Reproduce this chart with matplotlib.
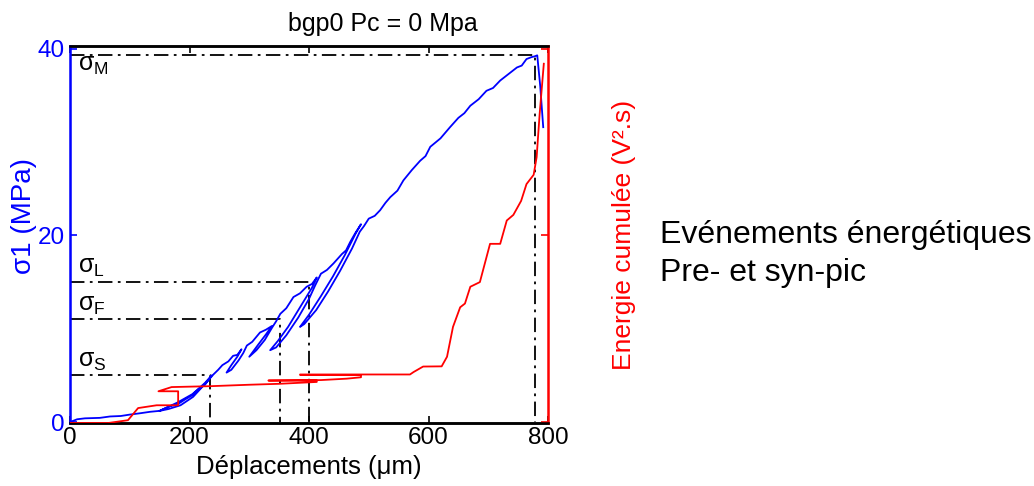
import numpy as np
import matplotlib
matplotlib.use('Agg')
import matplotlib.pyplot as plt

plt.rcParams['font.family'] = ['Liberation Sans', 'DejaVu Sans']
plt.rcParams['mathtext.fontset'] = 'custom'
plt.rcParams['mathtext.rm'] = 'Liberation Sans'
plt.rcParams['mathtext.it'] = 'Liberation Sans'
plt.rcParams['mathtext.bf'] = 'Liberation Sans'

# stress vs displacement (with unload / reload loops)
blue_x = [0, 12, 25, 50, 67, 85, 100, 118, 134, 150, 167, 180, 192, 205, 215, 226, 237,
          226, 205, 180, 160, 150,
          165, 185, 206, 229, 240, 248, 255, 265, 273, 280, 287,
          280, 270, 262,
          270, 282, 290, 296, 305, 318, 328, 338,
          328, 315, 300,
          312, 326, 338, 345, 352, 362, 374, 385, 396, 405, 413,
          405, 385, 365, 348, 335,
          345, 362, 382, 400, 410, 420, 430, 441, 455, 462, 469, 477, 487,
          478, 460, 440, 420, 400, 385,
          392, 412, 432, 452, 472, 485, 492, 500, 510, 519, 528, 536, 548, 558,
          572, 586, 595, 603, 620, 636, 650, 660, 670, 684, 697, 708, 720,
          734, 748, 756, 764, 772, 778, 782, 787, 792]
blue_y = [0, 0.3, 0.4, 0.45, 0.6, 0.65, 0.8, 0.95, 1.1, 1.2, 1.7, 1.9, 2.4, 2.9, 3.5, 4.0, 5.0,
          4.2, 3.0, 2.1, 1.5, 1.2,
          1.4, 1.8, 2.7, 4.3, 5.1, 5.6, 6.1, 6.5, 7.1, 7.2, 7.8,
          7.0, 6.1, 5.3,
          5.6, 6.6, 7.4, 8.2, 8.6, 9.6, 9.9, 10.3,
          9.4, 8.3, 7.0,
          7.7, 8.8, 10.1, 10.8, 11.6, 12.2, 13.4, 13.8, 14.5, 14.8, 15.5,
          14.4, 12.3, 10.2, 8.7, 7.7,
          8.0, 9.3, 11.2, 13.2, 14.6, 15.9, 16.3, 17.0, 18.0, 18.4, 19.3, 20.2, 21.2,
          20.2, 17.9, 15.6, 13.5, 11.5, 10.2,
          10.5, 12.0, 14.0, 16.2, 18.6, 20.4, 21.0, 21.8, 22.1, 22.7, 23.5, 24.1, 24.8, 25.9,
          27.0, 28.0, 28.5, 29.5, 30.4, 31.6, 32.6, 33.1, 33.9, 34.6, 35.5, 35.8, 36.6,
          37.3, 38.0, 38.2, 38.9, 39.1, 39.2, 39.3, 36.0, 31.6]

# cumulated energy (same scale as left axis, arbitrary units)
red_x = [0, 64, 97, 114, 145, 181, 181, 148, 170, 237, 300, 350, 413,
         413, 332, 420, 463, 487, 487, 385, 385, 569, 575, 591, 622, 631,
         641, 653, 661, 670, 686, 703, 720, 731, 742, 755, 764, 776, 781,
         786, 793]
red_y = [-0.1, -0.1, 0.2, 1.5, 1.8, 1.8, 3.3, 3.3, 3.75, 3.85, 4.0, 4.1, 4.3,
         4.45, 4.45, 4.5, 4.65, 4.8, 5.05, 5.05, 5.1, 5.1, 5.36, 5.95, 5.97, 7.0,
         10.2, 12.3, 12.7, 14.5, 15.0, 19.1, 19.1, 21.6, 22.2, 23.7, 25.5, 26.5, 28.4,
         33.0, 38.4]

# characteristic stresses
sig_names = ['M', 'L', 'F', 'S']
sig_levels = [39.3, 15.0, 11.0, 5.0]
sig_disp = [778, 400, 351, 234]
sig_label_y = [37.6, 16.0, 11.9, 5.9]

fig = plt.figure(figsize=(10.34, 4.86), dpi=100)
ax = fig.add_axes([70/1034, 1-423/486, 478/1034, 377/486])
ax2 = ax.twinx()

ax.plot(blue_x, blue_y, color='#0000ff', lw=1.3, zorder=3)
ax2.plot(red_x, red_y, color='#ff0000', lw=1.3, zorder=3)

for nm, lv, xd, ly in zip(sig_names, sig_levels, sig_disp, sig_label_y):
    ax.plot([0, xd, xd], [lv, lv, 0], color='black', lw=1.3,
            linestyle=(0, (8, 3, 1.5, 3)), zorder=2)
    ax.text(13, ly, r'$\sigma_{\mathrm{%s}}$' % nm, fontsize=18, va='baseline')

ax.set_xlim(0, 800)
ax.set_ylim(-0.1, 40.3)
ax2.set_ylim(-0.1, 40.3)
ax.set_xticks([0, 200, 400, 600, 800])
ax.set_yticks([0, 20, 40])
ax2.set_yticks([0, 20, 40])
ax2.set_yticklabels([])

ax.tick_params(axis='x', direction='in', top=True, labelsize=17.5, length=5, width=1.2, pad=3)
ax.tick_params(axis='y', direction='in', colors='#0000ff', labelsize=17.5, length=5, width=1.2, pad=4)
ax2.tick_params(axis='y', direction='in', colors='#ff0000', length=5, width=1.2)

for s in ['top', 'bottom']:
    ax.spines[s].set_linewidth(1.8)
    ax2.spines[s].set_linewidth(1.8)
ax2.spines['left'].set_color('#0000ff')
ax2.spines['left'].set_linewidth(1.8)
ax2.spines['right'].set_color('#ff0000')
ax2.spines['right'].set_linewidth(1.8)
ax.spines['left'].set_color('#0000ff')
ax.spines['right'].set_visible(False)

ax.set_xlabel('Déplacements (μm)', fontsize=18.5)
ax.xaxis.set_label_coords(0.5, -0.085)
ax.set_ylabel('σ1 (MPa)', fontsize=20, color='#0000ff')
ax.yaxis.set_label_coords(-0.069, 0.55)
ax2.set_ylabel('Energie cumulée (V².s)', fontsize=19, color='#ff0000')
ax2.yaxis.set_label_coords(1.134, 0.5)

fig.text(383/1034, 1-31/486, 'bgp0 Pc = 0 Mpa', fontsize=18, ha='center', va='baseline')
fig.text(660/1034, 1-243/486, 'Evénements énergétiques', fontsize=23, va='baseline')
fig.text(660/1034, 1-281/486, 'Pre- et syn-pic', fontsize=23, va='baseline')

fig.savefig('out.png', dpi=100)
